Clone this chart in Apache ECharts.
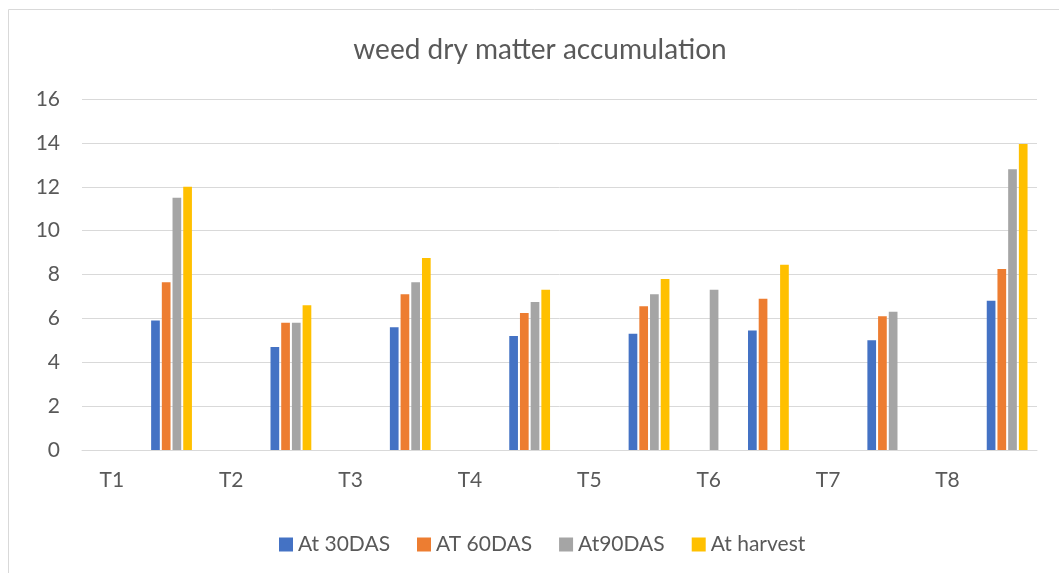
<!DOCTYPE html>
<html>
<head>
<meta charset="utf-8">
<script src="https://cdn.jsdelivr.net/npm/echarts@6/dist/echarts.min.js"></script>
<style>
  html, body { margin: 0; padding: 0; background: #fff; }
  #main { width: 1059px; height: 573px; }
</style>
</head>
<body>
<div id="main"></div>
<script>
// rows as they sit in the sheet: label rows (T1..T8) alternate with blank rows
var categories = ['T1', '', 'T2', '', 'T3', '', 'T4', '', 'T5', '', 'T6', '', 'T7', '', 'T8', ''];
var seriesNames = ['At 30DAS', 'AT 60DAS', 'At90DAS', 'At harvest'];
var das30   = [null, 5.9,  null, 4.7,  null, 5.6,  null, 5.2,  null, 5.3,  null, 5.45, null, 5.0,  null, 6.8];
var das60   = [null, 7.65, null, 5.8,  null, 7.1,  null, 6.25, null, 6.55, null, 6.9,  null, 6.1,  null, 8.25];
var das90   = [null, 11.5, null, 5.8,  null, 7.65, null, 6.75, null, 7.1,  7.3,  null, null, 6.3,  null, 12.8];
var harvest = [null, 12.0, null, 6.6,  null, 8.75, null, 7.3,  null, 7.8,  null, 8.45, null, null, null, 13.95];
var yTicks = { min: 0, max: 16, step: 2 };

var colors = ['#4472C4', '#ED7D31', '#A5A5A5', '#FFC000'];
var txt = '#595959';
var font = 'Lato';

var chart = echarts.init(document.getElementById('main'));

function bar(name, data) {
  return {
    name: name,
    type: 'bar',
    data: data,
    barWidth: 8.7,
    barGap: '23%',
    animation: false
  };
}

chart.setOption({
  animation: false,
  color: colors,
  graphic: [{
    type: 'rect',
    shape: { x: 8.5, y: 9.5, width: 1200, height: 700 },
    style: { fill: null, stroke: '#d9d9d9', lineWidth: 1 },
    silent: true
  }],
  title: {
    text: 'weed dry matter accumulation',
    left: 535,
    textAlign: 'center',
    top: 31,
    textStyle: { fontFamily: font, fontSize: 28, fontWeight: 'normal', color: txt }
  },
  legend: {
    data: seriesNames,
    left: 274,
    top: 529,
    icon: 'rect',
    itemWidth: 14,
    itemHeight: 14,
    itemGap: 27,
    textStyle: { fontFamily: font, fontSize: 21, color: txt }
  },
  grid: { left: 82, right: 22, top: 99, bottom: 123 },
  xAxis: {
    type: 'category',
    data: categories,
    axisTick: { show: false },
    axisLine: { lineStyle: { color: '#d9d9d9', width: 1 } },
    axisLabel: { interval: 0, margin: 20, fontFamily: font, fontSize: 21, color: txt }
  },
  yAxis: {
    type: 'value',
    min: yTicks.min,
    max: yTicks.max,
    interval: yTicks.step,
    axisLine: { show: false },
    axisTick: { show: false },
    splitLine: { lineStyle: { color: '#d9d9d9', width: 1 } },
    axisLabel: { margin: 22, fontFamily: font, fontSize: 21, color: txt }
  },
  series: [
    bar(seriesNames[0], das30),
    bar(seriesNames[1], das60),
    bar(seriesNames[2], das90),
    bar(seriesNames[3], harvest)
  ]
});
</script>
</body>
</html>
